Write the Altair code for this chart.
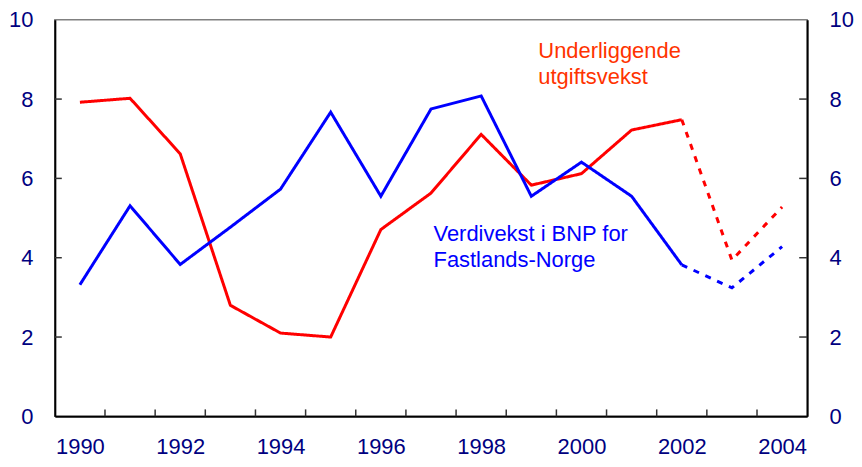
import altair as alt
import pandas as pd

# ---- data ----
years = list(range(1990, 2005))
utgiftsvekst = [7.92, 8.02, 6.62, 2.80, 2.10, 2.00, 4.71, 5.63, 7.11, 5.83, 6.12, 7.22, 7.48, 3.94, 5.28]
bnp_vekst = [3.32, 5.31, 3.83, 4.77, 5.73, 7.67, 5.55, 7.75, 8.08, 5.55, 6.41, 5.55, 3.82, 3.24, 4.28]
last_actual_year = 2002
series_names = ["Underliggende utgiftsvekst", "Verdivekst i BNP for Fastlands-Norge"]
series_colors = ["#FF0000", "#0000FF"]
y_tick_values = [0, 2, 4, 6, 8, 10]
x_label_values = [1990, 1992, 1994, 1996, 1998, 2000, 2002, 2004]
x_tick_bounds = [y + 0.5 for y in years[:-1]]

ann_text = ["Underliggende\nutgiftsvekst", "Verdivekst i BNP for\nFastlands-Norge"]
ann_x = [1999.14, 1997.05]
ann_y = [9.03, 4.41]
ann_colors = ["#FF3300", "#0000FF"]

W, H = 755, 398
FONT = "Liberation Sans"
LABEL_COLOR = "#000080"

rows = []
for name, vals in zip(series_names, [utgiftsvekst, bnp_vekst]):
    for yr, v in zip(years, vals):
        if yr <= last_actual_year:
            rows.append({"year": yr, "value": v, "series": name, "part": "faktisk"})
        if yr >= last_actual_year:
            rows.append({"year": yr, "value": v, "series": name, "part": "anslag"})
df = pd.DataFrame(rows)

x_scale = alt.Scale(domain=[1989.5, 2004.5], nice=False, zero=False)
y_scale = alt.Scale(domain=[0, 10], nice=False, zero=True)

axis_common = dict(
    labelFont=FONT, labelFontSize=22, labelColor=LABEL_COLOR, grid=False,
    ticks=False, title=None, domainColor="#000000", domainWidth=2,
)

lines = alt.Chart(df).mark_line(strokeWidth=3, strokeCap="butt").encode(
    x=alt.X("year:Q", scale=x_scale,
            axis=alt.Axis(values=x_label_values, format="d", labelPadding=20, **axis_common)),
    y=alt.Y("value:Q", scale=y_scale,
            axis=alt.Axis(values=y_tick_values, orient="left", labelPadding=22, **axis_common)),
    color=alt.Color("series:N", scale=alt.Scale(domain=series_names, range=series_colors), legend=None),
    strokeDash=alt.StrokeDash("part:N", scale=alt.Scale(domain=["faktisk", "anslag"], range=[[1, 0], [6, 7]]),
                              legend=None),
)

ytick_df = pd.DataFrame({"v": y_tick_values[1:-1]})
left_ticks = alt.Chart(ytick_df).mark_rule(color="#333333", strokeWidth=1.5).encode(
    x=alt.value(0), x2=alt.value(7),
    y=alt.Y("v:Q", scale=y_scale,
            axis=alt.Axis(values=y_tick_values, orient="right", labelPadding=22, **axis_common)),
)
right_ticks = alt.Chart(ytick_df).mark_rule(color="#333333", strokeWidth=1.5).encode(
    x=alt.value(W - 8), x2=alt.value(W),
    y=alt.Y("v:Q", scale=y_scale, axis=None),
)
xtick_df = pd.DataFrame({"b": x_tick_bounds})
x_ticks = alt.Chart(xtick_df).mark_rule(color="#333333", strokeWidth=1.5).encode(
    x=alt.X("b:Q", scale=x_scale),
    y=alt.value(H), y2=alt.value(H - 7),
)

ann_df = pd.DataFrame({"text": ann_text, "x": ann_x, "y": ann_y, "c": ann_colors})
ann = alt.Chart(ann_df).mark_text(
    font=FONT, fontSize=22, align="left", baseline="alphabetic", lineBreak="\n", lineHeight=26
).encode(
    x=alt.X("x:Q", scale=x_scale),
    y=alt.Y("y:Q", scale=y_scale, axis=None),
    text="text:N",
    color=alt.Color("c:N", scale=None),
)

chart = alt.layer(lines, left_ticks, right_ticks, x_ticks, ann).resolve_axis(
    y="independent"
).properties(
    width=W, height=H,
    padding={"left": 47, "top": 11, "right": 47, "bottom": 45},
    autosize=alt.AutoSizeParams(type="none"),
    background="white",
).configure_view(stroke="#808080", strokeWidth=1.5)

chart.save("out.html", embed_options={"renderer": "svg", "actions": False})
